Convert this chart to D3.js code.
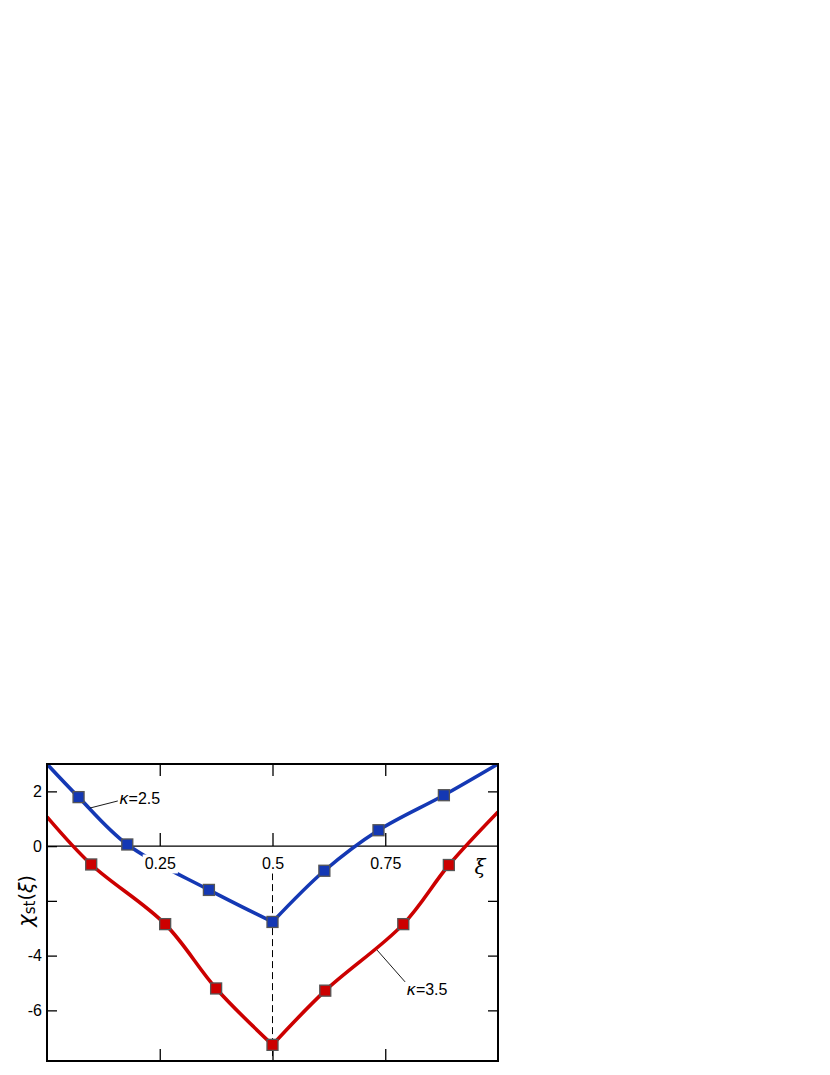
<!DOCTYPE html>
<html>
<head>
<meta charset="utf-8">
<script src="https://cdn.jsdelivr.net/npm/d3@7"></script>
<style>
  body { margin: 0; background: #fff; }
  text { font-family: "Liberation Sans", Arial, sans-serif; }
</style>
</head>
<body>
<svg id="drawing_region"></svg>
<script>
// markers (xi, chi)
var blue_x = [0.07, 0.178, 0.359, 0.5, 0.615, 0.735, 0.88];
var blue_y = [1.79, 0.06, -1.6, -2.77, -0.9, 0.58, 1.86];
var red_x = [0.098, 0.262, 0.375, 0.5, 0.617, 0.79, 0.891];
var red_y = [-0.67, -2.85, -5.2, -7.26, -5.28, -2.85, -0.69];

// curve ends at the frame edges
var blue_ends = [[0, 3.0], [1, 3.0]];
var red_ends = [[0, 1.07], [1, 1.25]];

var x_ticks = [0.25, 0.5, 0.75];
var x_tick_labels = ['0.25', '0.5', '0.75'];
var y_ticks = [2, 0, -2, -4, -6];
var y_tick_labels = ['2', '0', '', '-4', '-6'];

var config = {
    parent: '#drawing_region',
    width: 830,
    height: 1075,
    margin: {top: 764, left: 47},
    inner_width: 451,
    inner_height: 297
};

var blue_color = '#1438b4';
var red_color = '#cc0000';

var svg = d3.select(config.parent)
    .attr('width', config.width)
    .attr('height', config.height);

var chart = svg.append('g')
    .attr('transform', `translate(${config.margin.left}, ${config.margin.top})`);

var xscale = d3.scaleLinear().domain([0, 1]).range([0, config.inner_width]);
var yscale = d3.scaleLinear().domain([-7.85, 3]).range([config.inner_height, 0]);

chart.append('clipPath').attr('id', 'clip')
    .append('rect')
    .attr('width', config.inner_width)
    .attr('height', config.inner_height);

// ticks (all pointing inward)
function style_axis(g) {
    g.select('.domain').remove();
    g.selectAll('.tick line').attr('stroke', '#000').attr('stroke-width', 1.3);
    g.selectAll('.tick text')
        .attr('fill', '#000')
        .style('font-size', '16px')
        .style('font-family', '"Liberation Sans", Arial, sans-serif');
}

chart.append('g')
    .call(d3.axisLeft(yscale).tickValues(y_ticks).tickSize(-10).tickPadding(5)
        .tickFormat((d, i) => y_tick_labels[i]))
    .call(style_axis);

chart.append('g')
    .attr('transform', `translate(${config.inner_width}, 0)`)
    .call(d3.axisRight(yscale).tickValues(y_ticks.filter(d => d !== 0)).tickSize(-10).tickFormat(''))
    .call(style_axis);

chart.append('g')
    .call(d3.axisTop(xscale).tickValues(x_ticks).tickSize(-12).tickFormat(''))
    .call(style_axis);

chart.append('g')
    .attr('transform', `translate(0, ${config.inner_height})`)
    .call(d3.axisBottom(xscale).tickValues(x_ticks).tickSize(-12).tickFormat(''))
    .call(style_axis);

// dashed line at xi = 0.5
chart.append('line')
    .attr('x1', xscale(0.5)).attr('x2', xscale(0.5))
    .attr('y1', yscale(0) + 27).attr('y2', config.inner_height)
    .attr('stroke', '#000')
    .attr('stroke-width', 1)
    .attr('stroke-dasharray', '7,4');

// zero line with its own ticks and labels
var zero_axis = chart.append('g')
    .attr('transform', `translate(0, ${yscale(0)})`)
    .call(d3.axisBottom(xscale).tickValues(x_ticks).tickSize(-13).tickPadding(12)
        .tickFormat((d, i) => x_tick_labels[i]))
    .call(style_axis);

chart.append('line')
    .attr('x1', 0).attr('x2', config.inner_width)
    .attr('y1', yscale(0)).attr('y2', yscale(0))
    .attr('stroke', '#000')
    .attr('stroke-width', 1.4);

// curves, split at the cusp at xi = 0.5
function curve_points(xs, ys, ends) {
    var pts = xs.map((x, i) => [x, ys[i]]);
    return [ends[0]].concat(pts, [ends[1]]);
}

var line = d3.line()
    .x(d => xscale(d[0]))
    .y(d => yscale(d[1]))
    .curve(d3.curveCatmullRom.alpha(0.5));

var series = [
    {color: blue_color, pts: curve_points(blue_x, blue_y, blue_ends), xs: blue_x, ys: blue_y},
    {color: red_color, pts: curve_points(red_x, red_y, red_ends), xs: red_x, ys: red_y}
];

var curves = chart.append('g').attr('clip-path', 'url(#clip)');
series.forEach(s => {
    var left = s.pts.filter(d => d[0] <= 0.5);
    var right = s.pts.filter(d => d[0] >= 0.5);
    [left, right].forEach(part => {
        curves.append('path')
            .datum(part)
            .attr('d', line)
            .attr('fill', 'none')
            .attr('stroke', s.color)
            .attr('stroke-width', 3.6)
            .attr('stroke-linecap', 'butt');
    });
});

// white halo behind the xi labels on the zero line (breaks the blue curve)
zero_axis.raise();
zero_axis.selectAll('.tick').each(function() {
    var t = d3.select(this).select('text');
    var b = t.node().getBBox();
    d3.select(this).insert('rect', 'text')
        .attr('x', b.x - 2).attr('y', b.y - 1)
        .attr('width', b.width + 4).attr('height', b.height + 2)
        .attr('fill', '#fff');
});

// markers
series.forEach(s => {
    chart.append('g').selectAll('rect')
        .data(s.xs.map((x, i) => [x, s.ys[i]]))
        .join('rect')
        .attr('x', d => xscale(d[0]) - 5.5)
        .attr('y', d => yscale(d[1]) - 5.5)
        .attr('width', 11)
        .attr('height', 11)
        .attr('fill', s.color)
        .attr('stroke', '#555')
        .attr('stroke-width', 1.3);
});

// frame
chart.append('rect')
    .attr('width', config.inner_width)
    .attr('height', config.inner_height)
    .attr('fill', 'none')
    .attr('stroke', '#000')
    .attr('stroke-width', 2);

// kappa labels with leader lines
var labels = [
    {text: '2.5', at: [0.16, 1.53], from: [0.095, 1.39], to: [0.157, 1.65]},
    {text: '3.5', at: [0.797, -5.44], from: [0.732, -3.8], to: [0.794, -4.96]}
];
labels.forEach(l => {
    chart.append('line')
        .attr('x1', xscale(l.from[0])).attr('y1', yscale(l.from[1]))
        .attr('x2', xscale(l.to[0])).attr('y2', yscale(l.to[1]))
        .attr('stroke', '#000')
        .attr('stroke-width', 0.9);
    var t = chart.append('text')
        .attr('x', xscale(l.at[0]))
        .attr('y', yscale(l.at[1]))
        .style('font-size', '16px');
    t.append('tspan').style('font-style', 'italic').style('font-family', '"DejaVu Sans", sans-serif').text('κ');
    t.append('tspan').text('=' + l.text);
});

// xi axis label
chart.append('text')
    .attr('x', xscale(0.96))
    .attr('y', yscale(0) + 28)
    .attr('text-anchor', 'middle')
    .style('font-family', '"DejaVu Serif", serif')
    .style('font-style', 'italic')
    .style('font-size', '20px')
    .text('ξ');

// y axis title
var ytitle = svg.append('text')
    .attr('transform', `translate(33, ${yscale(-2) + config.margin.top}) rotate(-90)`)
    .attr('text-anchor', 'middle')
    .style('font-family', '"DejaVu Sans", sans-serif');
ytitle.append('tspan').style('font-style', 'italic').style('font-size', '21px').text('χ');
ytitle.append('tspan').attr('dy', 2).style('font-size', '15px').text('st');
ytitle.append('tspan').attr('dy', -2).style('font-size', '19px').text('(');
ytitle.append('tspan').style('font-style', 'italic').style('font-size', '19px').text('ξ');
ytitle.append('tspan').style('font-size', '19px').text(')');
</script>
</body>
</html>
